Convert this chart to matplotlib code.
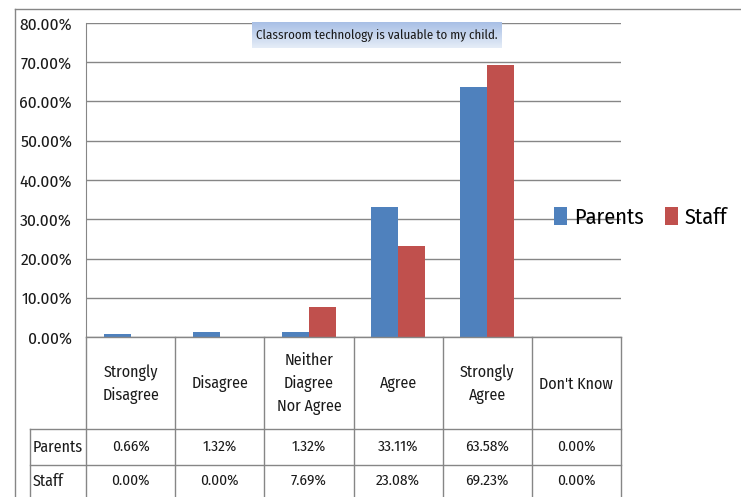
import numpy as np
import matplotlib
matplotlib.use("Agg")
import matplotlib.pyplot as plt
from matplotlib.lines import Line2D

plt.rcParams['font.family'] = ['Fira Sans Condensed', 'DejaVu Sans']

# datos
categorias = ["Strongly\nDisagree", "Disagree", "Neither\nDiagree\nNor Agree",
              "Agree", "Strongly\nAgree", "Don't Know"]
series = ["Parents", "Staff"]
parents = [0.66, 1.32, 1.32, 33.11, 63.58, 0.00]
staff = [0.00, 0.00, 7.69, 23.08, 69.23, 0.00]
titulo = "Classroom technology is valuable to my child."
yticks = [0, 10, 20, 30, 40, 50, 60, 70, 80]

azul = '#4f81bd'
rojo = '#c0504d'
gris = '#868686'
texto = '#1a1a1a'

W, H = 741, 497
fig = plt.figure(figsize=(W / 100, H / 100), dpi=100)


def fx(px):
    return px / W


def fy(py):
    return 1 - py / H


# ejes principales (en pixeles)
x0, x1, y_top, y_cero = 86, 621, 23, 337
ax = fig.add_axes([fx(x0), fy(y_cero), fx(x1 - x0), (y_cero - y_top) / H])

x = np.arange(len(categorias))
ancho = 0.3
ax.bar(x - ancho / 2, parents, ancho, color=azul, label=series[0], zorder=3)
ax.bar(x + ancho / 2, staff, ancho, color=rojo, label=series[1], zorder=3)

ax.set_xlim(-0.5, len(categorias) - 0.5)
ax.set_ylim(0, 80)
ax.set_yticks(yticks)
ax.set_yticklabels([f"{v:.2f}%" for v in yticks], fontsize=12.5, color=texto)
ax.tick_params(axis='y', length=0, pad=10)
ax.tick_params(axis='x', length=0, labelbottom=False)
ax.grid(axis='y', color=gris, linewidth=1, zorder=0)
for s in ['top', 'right', 'bottom']:
    ax.spines[s].set_visible(False)
ax.spines['left'].set_color(gris)

# leyenda
ax.legend(loc='center left', bbox_to_anchor=((554 - x0) / (x1 - x0), 0.38),
          frameon=False, fontsize=16, ncol=2, handlelength=0.6, handleheight=0.85,
          handletextpad=0.3, columnspacing=0.95, borderaxespad=0, borderpad=0)

# titulo con fondo degradado
tx0, tx1, ty0, ty1 = 252, 501, 22, 48
grad = fig.add_axes([fx(tx0), fy(ty1), fx(tx1 - tx0), (ty1 - ty0) / H], zorder=5)
g = np.linspace(0, 1, 50).reshape(-1, 1)
c_top = np.array([0.66, 0.75, 0.90])
c_bot = np.array([0.90, 0.93, 0.97])
img = c_top + (c_bot - c_top) * g[:, :, None]
grad.imshow(img, aspect='auto', extent=[0, 1, 0, 1], origin='upper')
grad.axis('off')
grad.text(0.5, 0.5, titulo, ha='center', va='center', fontsize=9.3,
          color=texto, transform=grad.transAxes)

# tabla de datos
lineas = []
lineas.append(([15, 741], [9, 9]))
lineas.append(([15, 15], [9, 497]))
lineas.append(([x0, x0], [y_cero, 497]))
lineas.append(([x0, x1], [y_cero, y_cero]))
lineas.append(([30, x1], [429, 429]))
lineas.append(([30, x1], [465, 465]))
lineas.append(([30, 30], [429, 497]))
paso = (x1 - x0) / len(categorias)
for i in range(1, len(categorias) + 1):
    xv = x0 + paso * i
    lineas.append(([xv, xv], [y_cero, 497]))
for xs, ys in lineas:
    fig.add_artist(Line2D([fx(v) for v in xs], [fy(v) for v in ys],
                          color=gris, linewidth=1))

for i, cat in enumerate(categorias):
    cx = fx(x0 + paso * (i + 0.5))
    fig.text(cx, fy(384), cat, ha='center', va='center', fontsize=11.5,
             linespacing=1.5, color=texto)
    fig.text(cx, fy(447), f"{parents[i]:.2f}%", ha='center', va='center',
             fontsize=11, color=texto)
    fig.text(cx, fy(481), f"{staff[i]:.2f}%", ha='center', va='center',
             fontsize=11, color=texto)

fig.text(fx(33), fy(447), series[0], ha='left', va='center', fontsize=11.5, color=texto)
fig.text(fx(33), fy(481), series[1], ha='left', va='center', fontsize=11.5, color=texto)

fig.savefig("out.png", dpi=100)
